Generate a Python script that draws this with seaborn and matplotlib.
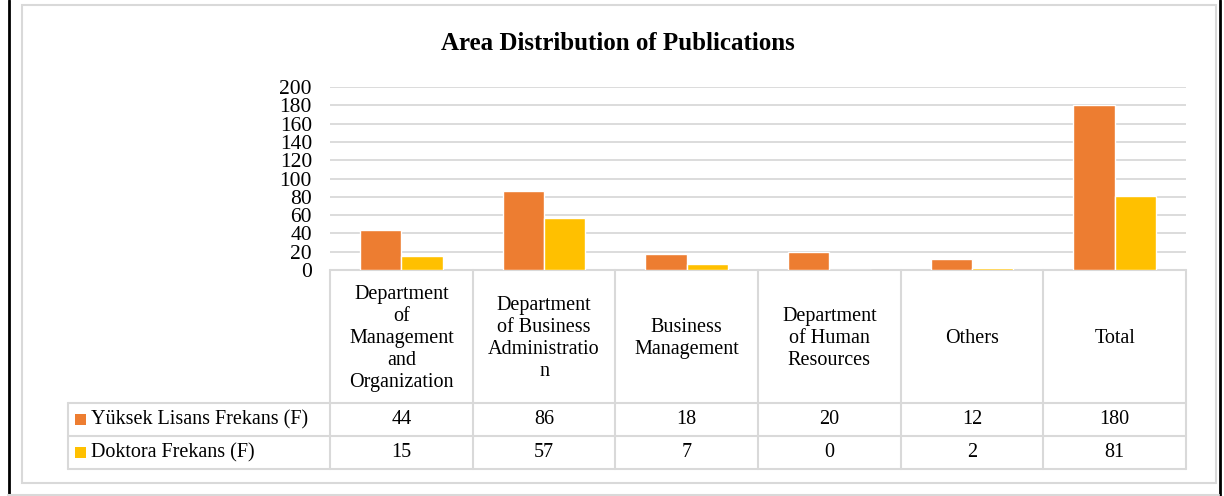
import numpy as np
import pandas as pd
import matplotlib.pyplot as plt
import seaborn as sns
from matplotlib.patches import Rectangle

categories = ["Department\nof\nManagement\nand\nOrganization",
              "Department\nof Business\nAdministratio\nn",
              "Business\nManagement",
              "Department\nof Human\nResources",
              "Others",
              "Total"]
series = ["Yüksek Lisans Frekans (F)", "Doktora Frekans (F)"]
yuksek_lisans = [44, 86, 18, 20, 12, 180]
doktora = [15, 57, 7, 0, 2, 81]
yticks = list(range(0, 201, 20))
colors = ["#ED7D31", "#FFC000"]

df = pd.DataFrame({
    "category": categories * 2,
    "series": [series[0]] * len(categories) + [series[1]] * len(categories),
    "value": yuksek_lisans + doktora,
})

sns.set_style("white")
plt.rcParams['font.family'] = ['Liberation Serif', 'DejaVu Serif']
plt.rcParams['text.color'] = 'black'
plt.rcParams['ytick.color'] = 'black'
grid_c = "#d9d9d9"
fs = 14.5

W, H = 1224, 496
fig = plt.figure(figsize=(W / 100, H / 100), dpi=100)

# background axes in pixel coords for frame and data table
bg = fig.add_axes([0, 0, 1, 1])
bg.set_xlim(0, W)
bg.set_ylim(H, 0)
bg.axis('off')

# page edges and chart frame
bg.plot([8.5, 8.5], [0, H], color="black", lw=2)
bg.plot([1219.5, 1219.5], [0, H], color="black", lw=2)
bg.plot([8, 1219], [495, 495], color=grid_c, lw=1.5)
bg.add_patch(Rectangle((22, 5), 1194, 478, fill=False, ec=grid_c, lw=1.5))

bg.text(618, 43, "Area Distribution of Publications", ha="center", va="center",
        fontsize=18, fontweight="bold")

# data table
x_left, x_right = 330, 1186
edges = np.linspace(x_left, x_right, len(categories) + 1)
centers = (edges[:-1] + edges[1:]) / 2
y_head, y_r1, y_r2, y_bot = 270, 403, 436, 469
leg_x = 68
for e in edges:
    bg.plot([e, e], [y_head, y_bot], color=grid_c, lw=1.5)
bg.plot([leg_x, leg_x], [y_r1, y_bot], color=grid_c, lw=1.5)
bg.plot([x_left, x_right], [y_head, y_head], color=grid_c, lw=1.5)
for yy in [y_r1, y_r2, y_bot]:
    bg.plot([leg_x, x_right], [yy, yy], color=grid_c, lw=1.5)

for c, lab in zip(centers, categories):
    bg.text(c, (y_head + y_r1) / 2 + 2, lab, ha="center", va="center",
            fontsize=fs, linespacing=1.2)

rows = [(yuksek_lisans, y_r1, y_r2), (doktora, y_r2, y_bot)]
for (vals, t, b), name, col in zip(rows, series, colors):
    ym = (t + b) / 2
    bg.add_patch(Rectangle((75, ym - 5.5), 11, 11, color=col, lw=0))
    bg.text(91, ym, name, ha="left", va="center", fontsize=fs)
    for c, v in zip(centers, vals):
        bg.text(c, ym, str(v), ha="center", va="center", fontsize=fs)

# bar chart
ax = fig.add_axes([x_left / W, (H - y_head) / H, (x_right - x_left) / W, (y_head - 87) / H])
sns.barplot(data=df, x="category", y="value", hue="series", palette=colors,
            width=0.58, saturation=1, ax=ax, legend=False)
ax.set_xlim(-0.5, len(categories) - 0.5)
ax.set_ylim(0, 200)
ax.set_yticks(yticks)
ax.set_xticks([])
ax.set_xlabel("")
ax.set_ylabel("")
ax.yaxis.grid(True, color=grid_c, lw=1.3)
ax.set_axisbelow(True)
ax.tick_params(axis="y", length=0, pad=13, labelsize=15.5)
for s in ax.spines.values():
    s.set_visible(False)
ax.patch.set_alpha(0)

fig.savefig("out.png", dpi=100)
